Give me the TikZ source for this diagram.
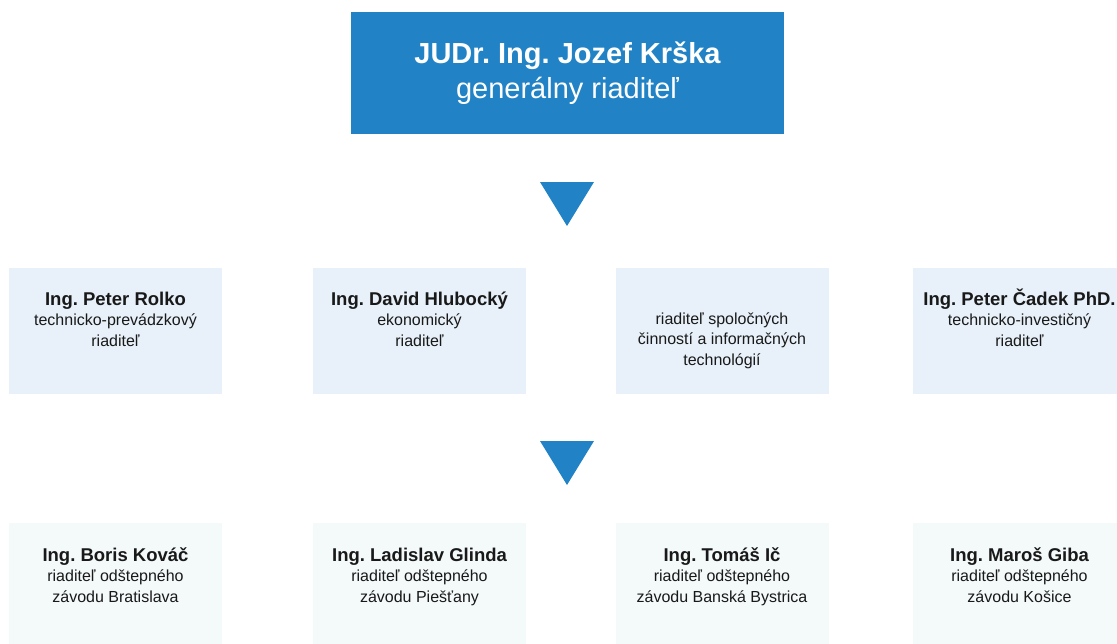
\documentclass[tikz,border=0pt]{standalone}
\usepackage{fontspec}
\setmainfont{Liberation Sans}
\frenchspacing
\definecolor{ceoblue}{HTML}{2183C6}
\definecolor{deptblue}{HTML}{E8F1F9}
\definecolor{plantblue}{HTML}{F4F9FA}
\newcommand{\whofont}{\fontsize{18.5}{21}\selectfont\bfseries}

\begin{document}
\begin{tikzpicture}[x=1pt,y=-1pt,
  deptbox/.style={rectangle,fill=deptblue,minimum width=213pt,minimum height=126pt,inner sep=0pt},
  plantbox/.style={rectangle,fill=plantblue,minimum width=213pt,minimum height=126pt,inner sep=0pt},
  boxtext/.style={align=center,inner sep=0pt,anchor=base,text=black!90,font=\fontsize{16}{20.5}\selectfont}]
\useasboundingbox (0,0) rectangle (1117,643);
% general director (base = last line)
\node [rectangle,fill=ceoblue,minimum width=433pt,minimum height=122pt,inner sep=0pt] (ceo) at (567.5,73) {};
\node [align=center,inner sep=0pt,anchor=base,text=white,font=\fontsize{29}{35}\selectfont] (ceo-text) at (567.5,98)
  {{\bfseries JUDr. Ing. Jozef Krška}\\generálny riaditeľ};
\fill [ceoblue] (540,182) -- (594,182) -- (567,226) -- cycle; % down marker 1
\fill [ceoblue] (540,441) -- (594,441) -- (567,485) -- cycle; % down marker 2
% boxes, rows 2 and 3
\foreach \number/\x in {1/115.5,2/419.5,3/722,4/1019.5}{
 \node [deptbox] (D-\number) at (\x,331) {};
 \node [plantbox] (P-\number) at (\x,586) {};
}
\node [boxtext] (D-1-text) at (D-1 |- 0,346) {{\whofont Ing. Peter Rolko}\\technicko-prevádzkový\\riaditeľ};
\node [boxtext] (D-2-text) at (D-2 |- 0,346) {{\whofont Ing. David Hlubocký}\\ekonomický\\riaditeľ};
\node [boxtext] (D-3-text) at (D-3 |- 0,365) {riaditeľ spoločných\\činností a informačných\\technológií};
\node [boxtext] (D-4-text) at (D-4 |- 0,346) {{\whofont Ing. Peter Čadek PhD.}\\technicko-investičný\\riaditeľ};
\foreach \number/\who/\town in {1/Boris Kováč/Bratislava,2/Ladislav Glinda/Piešťany,3/Tomáš Ič/Banská Bystrica,4/Maroš Giba/Košice}{
 \node [boxtext] (P-\number-text) at (P-\number |- 0,602) {{\whofont Ing. \who}\\riaditeľ odštepného\\závodu \town};
}
\end{tikzpicture}
\end{document}
